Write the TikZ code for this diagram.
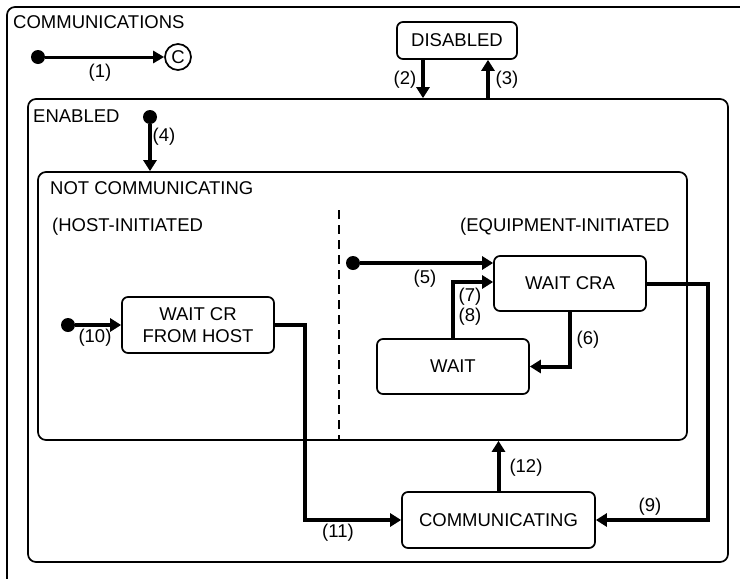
\documentclass[tikz,border=0pt]{standalone}
\usepackage{fontspec}
\setmainfont{Liberation Sans}
\usetikzlibrary{arrows.meta,calc}
\begin{document}
\begin{tikzpicture}[x=1pt,y=-1pt,
  every node/.style={font=\fontsize{18.5}{21.5}\selectfont},
  state/.style={draw,line width=1.7pt,rounded corners=6pt,align=center,inner sep=0pt},
  container/.style={draw,line width=1.7pt,rounded corners=8pt,inner sep=0pt},
  trans/.style={line width=4pt,-{Triangle[length=11pt,width=13pt]}},
  initdot/.style={circle,fill,inner sep=0pt,minimum size=14pt},
  lbl/.style={inner sep=1pt},
  title/.style={anchor=base west,inner sep=0pt}]
\useasboundingbox (0,0) rectangle (740,579);
\begin{scope}
  \clip (0,0) rectangle (740,579);
  \node[container,minimum width=763pt,minimum height=593pt] (comms) at (388.5,303.5) {};
\end{scope}
\node[title] (tcomms) at (13,28) {COMMUNICATIONS};
% containers
\node[container,minimum width=700pt,minimum height=463pt] (enabled) at (378,330.5) {};
\node[title] (tenabled) at (33,122) {ENABLED};
\node[container,minimum width=649pt,minimum height=268pt] (notcomm) at (362.5,306) {};
\node[title] (tnotcomm) at (50,194) {NOT COMMUNICATING};
\node[title] (thost) at (52,231) {(HOST-INITIATED};
\node[title] (tequip) at (460,231) {(EQUIPMENT-INITIATED};
\coordinate (dashtop) at (339,210);
\draw[line width=1.7pt,dash pattern=on 9pt off 6pt] (dashtop) -- (notcomm.south -| dashtop);
% states
\node[state,minimum width=120pt,minimum height=37pt] (disabled) at (457,40.5) {DISABLED};
\node[state,minimum width=152pt,minimum height=56pt] (waitcr) at (198,325) {WAIT CR\\FROM HOST};
\node[state,minimum width=152pt,minimum height=55pt] (waitcra) at (570,283.5) {WAIT CRA};
\node[state,minimum width=152pt,minimum height=55pt] (wait) at (453,366.5) {WAIT};
\node[state,minimum width=193pt,minimum height=56pt] (comm) at (498.5,520) {COMMUNICATING};
\node[draw,circle,line width=1.7pt,minimum size=26pt,inner sep=0pt] (hist) at (178,57) {C};
% initial dots
\node[initdot] (d1) at (38,57) {};
\node[initdot] (d4) at (150,117) {};
\node[initdot] (d5) at (353,263) {};
\node[initdot] (d10) at (68,325) {};
% helper coordinates
\coordinate (x2) at (423,0);
\coordinate (x3) at (488,0);
\coordinate (x78) at (453,282);
% transitions
\draw[line width=3pt,-{Triangle[length=11pt,width=12pt]}] (d1) -- (hist);
\draw[trans] (disabled.south -| x2) -- (enabled.north -| x2);
\draw[trans] (enabled.north -| x3) -- (disabled.south -| x3);
\draw[trans] (d4) -- (notcomm.north -| d4);
\draw[trans] (d5) -- (waitcra.west |- d5);
\draw[trans] (waitcra.south) |- (wait.east);
\draw[trans] (wait.north -| x78) -- (x78) -- (waitcra.west |- x78);
\draw[trans] (waitcra.east) -- ++(61,0) |- (comm.east);
\draw[trans] (d10) -- (waitcr.west);
\draw[trans] (waitcr.east) -- ++(30,0) |- (comm.west);
\draw[trans] (comm.north) -- (notcomm.south -| comm.north);
% labels
\node[lbl] (l1) at (100,73) {(1)};
\node[lbl] (l2) at (405,80) {(2)};
\node[lbl] (l3) at (507,80) {(3)};
\node[lbl] (l4) at (164,137) {(4)};
\node[lbl] (l5) at (425,279) {(5)};
\node[lbl] (l6) at (588,340) {(6)};
\node[lbl] (l7) at (470,297) {(7)};
\node[lbl] (l8) at (470,317) {(8)};
\node[lbl] (l9) at (650,507) {(9)};
\node[lbl] (l10) at (95,338) {(10)};
\node[lbl] (l11) at (338,533) {(11)};
\node[lbl] (l12) at (526,468) {(12)};
\end{tikzpicture}
\end{document}
